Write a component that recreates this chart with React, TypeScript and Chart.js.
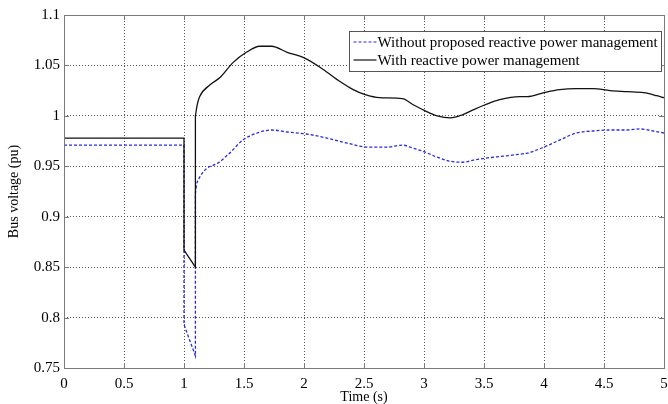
import React, { useEffect, useRef } from "react";
import { Chart, registerables } from "chart.js";

Chart.register(...registerables);

// Without proposed reactive power management (blue dashed): steady state + fault
const faultTimeWithout = [0, 1, 1, 1.095, 1.095];
const faultVoltWithout = [0.971, 0.971, 0.793, 0.762, 0.923];
// recovery
const recTimeWithout = [1.095, 1.105, 1.13, 1.19, 1.28, 1.38, 1.49, 1.61, 1.73, 1.86, 2.02, 2.19, 2.36, 2.53, 2.69, 2.82, 2.91, 3.01, 3.11, 3.22, 3.32, 3.41, 3.51, 3.66, 3.8, 3.86, 4.0, 4.13, 4.27, 4.41, 4.55, 4.69, 4.8, 4.91, 5];
const recVoltWithout = [0.923, 0.932, 0.939, 0.948, 0.953, 0.963, 0.976, 0.983, 0.986, 0.984, 0.982, 0.978, 0.973, 0.969, 0.969, 0.971, 0.968, 0.964, 0.959, 0.955, 0.954, 0.956, 0.958, 0.96, 0.962, 0.963, 0.969, 0.976, 0.983, 0.985, 0.986, 0.986, 0.987, 0.985, 0.983];

// With reactive power management (black solid): steady state + fault
const faultTimeWith = [0, 1, 1, 1.095, 1.095];
const faultVoltWith = [0.978, 0.978, 0.867, 0.85, 1.0];
// recovery
const recTimeWith = [1.095, 1.11, 1.13, 1.22, 1.3, 1.41, 1.52, 1.63, 1.73, 1.86, 2.01, 2.16, 2.3, 2.41, 2.51, 2.63, 2.82, 2.91, 3.01, 3.11, 3.22, 3.32, 3.41, 3.51, 3.63, 3.8, 3.86, 4.0, 4.13, 4.27, 4.41, 4.55, 4.69, 4.83, 4.94, 5];
const recVoltWith = [1.0, 1.011, 1.019, 1.031, 1.038, 1.053, 1.063, 1.069, 1.069, 1.063, 1.057, 1.046, 1.034, 1.026, 1.021, 1.018, 1.017, 1.011, 1.005, 1.0, 0.998, 1.001, 1.006, 1.011, 1.016, 1.019, 1.019, 1.023, 1.026, 1.027, 1.027, 1.025, 1.024, 1.023, 1.02, 1.018];

const xTicks = [0, 0.5, 1, 1.5, 2, 2.5, 3, 3.5, 4, 4.5, 5];
const yTicks = [0.75, 0.8, 0.85, 0.9, 0.95, 1, 1.05, 1.1];

const labelWithout = "Without proposed reactive power management";
const labelWith = "With reactive power management";
const xTitle = "Time (s)";
const yTitle = "Bus voltage (pu)";

const FONT = "'Liberation Serif', 'Times New Roman', serif";
const BLUE = "rgb(40,40,230)";
const BLACK = "#111";

const boxPlugin = {
  id: "matlabBox",
  afterDraw(chart: any) {
    const { ctx, chartArea, scales } = chart;
    const { left, right, top, bottom } = chartArea;
    ctx.save();
    ctx.strokeStyle = "#7a7a7a";
    ctx.lineWidth = 1;
    ctx.setLineDash([]);
    ctx.strokeRect(Math.round(left) + 0.5, Math.round(top) + 0.5, Math.round(right - left), Math.round(bottom - top));
    // inward ticks
    ctx.beginPath();
    xTicks.forEach((v) => {
      const px = Math.round(scales.x.getPixelForValue(v)) + 0.5;
      ctx.moveTo(px, bottom);
      ctx.lineTo(px, bottom - 5);
      ctx.moveTo(px, top);
      ctx.lineTo(px, top + 5);
    });
    yTicks.forEach((v) => {
      const py = Math.round(scales.y.getPixelForValue(v)) + 0.5;
      ctx.moveTo(left, py);
      ctx.lineTo(left + 5, py);
      ctx.moveTo(right, py);
      ctx.lineTo(right - 5, py);
    });
    ctx.stroke();

    // legend
    const bx = Math.round(right - 315) + 0.5;
    const by = Math.round(top + 16) + 0.5;
    const bw = 312;
    const bh = 40;
    ctx.fillStyle = "#fff";
    ctx.fillRect(bx, by, bw, bh);
    ctx.strokeStyle = "#555";
    ctx.strokeRect(bx, by, bw, bh);
    ctx.font = `15px ${FONT}`;
    ctx.textBaseline = "middle";
    ctx.fillStyle = "#000";
    const rows = [
      { label: labelWithout, color: BLUE, dash: [3, 2] },
      { label: labelWith, color: BLACK, dash: [] as number[] },
    ];
    rows.forEach((r, i) => {
      const y = by + 10.5 + i * 18;
      ctx.beginPath();
      ctx.setLineDash(r.dash);
      ctx.strokeStyle = r.color;
      ctx.lineWidth = 1.2;
      ctx.moveTo(bx + 4, y);
      ctx.lineTo(bx + 27, y);
      ctx.stroke();
      ctx.setLineDash([]);
      ctx.fillStyle = "#000";
      ctx.fillText(r.label, bx + 28, y + 1);
    });
    ctx.restore();
  },
};

const toPoints = (ts: number[], vs: number[]) => ts.map((t, i) => ({ x: t, y: vs[i] }));

export default function App() {
  const ref = useRef<HTMLCanvasElement | null>(null);
  useEffect(() => {
    document.body.style.margin = "0";
    const canvas = ref.current;
    if (!canvas) return;
    const common = { borderWidth: 1.3, pointRadius: 0 };
    const chart = new Chart(canvas, {
      type: "line",
      data: {
        datasets: [
          {
            ...common,
            label: labelWithout,
            data: toPoints(faultTimeWithout, faultVoltWithout),
            borderColor: BLUE,
            borderDash: [3, 2],
            tension: 0,
            order: 2,
          },
          {
            ...common,
            label: labelWithout,
            data: toPoints(recTimeWithout, recVoltWithout),
            borderColor: BLUE,
            borderDash: [3, 2],
            cubicInterpolationMode: "monotone",
            order: 2,
          },
          {
            ...common,
            label: labelWith,
            data: toPoints(faultTimeWith, faultVoltWith),
            borderColor: BLACK,
            tension: 0,
            order: 0,
          },
          {
            ...common,
            label: labelWith,
            data: toPoints(recTimeWith, recVoltWith),
            borderColor: BLACK,
            cubicInterpolationMode: "monotone",
            order: 0,
          },
        ],
      },
      options: {
        animation: false,
        responsive: false,
        maintainAspectRatio: false,
        layout: { padding: { left: 0, right: 0, top: 15, bottom: 0 } },
        plugins: { legend: { display: false }, tooltip: { enabled: false } },
        scales: {
          x: {
            type: "linear",
            min: 0,
            max: 5,
            afterBuildTicks: (s: any) => {
              s.ticks = xTicks.map((v) => ({ value: v }));
            },
            afterFit: (s: any) => {
              s.height = 36;
              s.paddingLeft = 0;
              s.paddingRight = 4;
            },
            ticks: {
              color: "#000",
              font: { family: FONT, size: 15 },
              padding: 7,
              maxRotation: 0,
              autoSkip: false,
              callback: (v: any) => String(Number(Number(v).toFixed(2))),
            },
            grid: { color: "#555", lineWidth: 1, drawTicks: false },
            border: { display: false, dash: [1, 2] },
            title: {
              display: true,
              text: xTitle,
              color: "#000",
              font: { family: FONT, size: 14 },
              padding: { top: 0, bottom: -2 },
            },
          },
          y: {
            type: "linear",
            min: 0.75,
            max: 1.1,
            afterBuildTicks: (s: any) => {
              s.ticks = yTicks.map((v) => ({ value: v }));
            },
            afterFit: (s: any) => {
              s.width = 64;
            },
            ticks: {
              color: "#000",
              font: { family: FONT, size: 15 },
              padding: 4,
              autoSkip: false,
              callback: (v: any) => String(Number(Number(v).toFixed(2))),
            },
            grid: { color: "#555", lineWidth: 1, drawTicks: false },
            border: { display: false, dash: [1, 2] },
            title: {
              display: true,
              text: yTitle,
              color: "#000",
              font: { family: FONT, size: 14 },
              padding: { top: 6, bottom: 0 },
            },
          },
        },
      },
      plugins: [boxPlugin],
    } as any);
    return () => chart.destroy();
  }, []);
  return (
    <div style={{ position: "absolute", left: 0, top: 0, width: 668, height: 404, background: "#fff" }}>
      <canvas ref={ref} width={668} height={404} style={{ width: 668, height: 404 }} />
    </div>
  );
}
